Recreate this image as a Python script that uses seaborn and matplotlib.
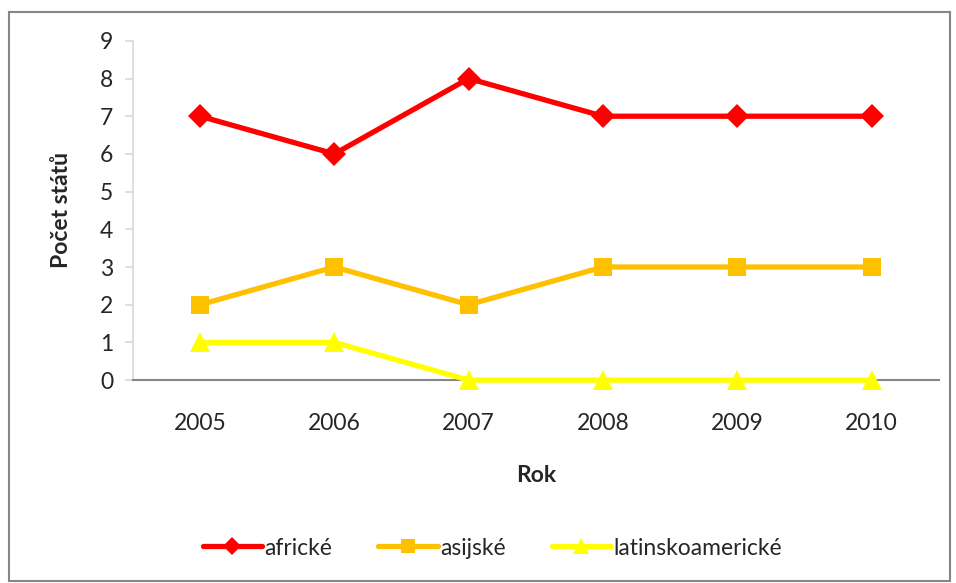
import numpy as np
import pandas as pd
import matplotlib
matplotlib.use('Agg')
import matplotlib.pyplot as plt
import seaborn as sns
from matplotlib.patches import Rectangle

# Data
years = ['2005', '2006', '2007', '2008', '2009', '2010']
africke = [7, 6, 8, 7, 7, 7]
asijske = [2, 3, 2, 3, 3, 3]
latinsko = [1, 1, 0, 0, 0, 0]

series_names = ['africké', 'asijské', 'latinskoamerické']
series_vals = [africke, asijske, latinsko]
colors = ['#FF0000', '#FFC000', '#FFFF00']
markers = ['D', 's', '^']
msizes = [12, 13, 14]

sns.set_style('white')
plt.rcParams['font.family'] = ['Lato', 'DejaVu Sans']

fig = plt.figure(figsize=(9.56, 5.83), dpi=100)
ax = fig.add_axes([0.139, 0.348, 0.843, 0.582])

for name, vals, c, m, ms in zip(series_names, series_vals, colors, markers, msizes):
    df = pd.DataFrame({'Rok': years, 'Počet': vals})
    sns.lineplot(data=df, x='Rok', y='Počet', ax=ax, color=c, linewidth=3.8,
                 marker=m, markersize=ms, markeredgewidth=0, label=name,
                 clip_on=False, zorder=3)

ax.set_xlim(-0.5, 5.5)
ax.set_ylim(0, 9)
ax.set_yticks(range(0, 10))
ax.set_xticks(range(6))
ax.set_xticklabels(years)
ax.set_xticks(np.arange(-0.5, 6, 1), minor=True)
ax.tick_params(axis='x', which='major', length=0, labelsize=16.5, pad=24)
ax.tick_params(axis='x', which='minor', length=6, color='#868686', width=1.2, direction='out')
ax.tick_params(axis='y', length=6, color='#d9d9d9', width=1.2, labelsize=16.5, pad=8, direction='out', left=True)

for s in ['top', 'right']:
    ax.spines[s].set_visible(False)
ax.spines['left'].set_color('#d9d9d9')
ax.spines['left'].set_linewidth(1.2)
ax.spines['bottom'].set_color('#868686')
ax.spines['bottom'].set_linewidth(1.5)

ax.set_xlabel('Rok', fontsize=16.5, fontweight='bold', labelpad=22)
ax.set_ylabel('Počet států', fontsize=16.5, fontweight='bold', labelpad=20)

ax.legend_.remove()
handles, labels = ax.get_legend_handles_labels()
fig.legend(handles, labels, loc='center', bbox_to_anchor=(0.515, 0.06), ncol=3,
           frameon=False, fontsize=16.5, handlelength=2.6, columnspacing=2.0,
           handletextpad=0.1, markerscale=0.8)

fig.patches.append(Rectangle((0.009, 0.004), 0.985, 0.976, transform=fig.transFigure,
                             fill=False, edgecolor='#868686', linewidth=1.5))

fig.savefig('out.png', dpi=100)
